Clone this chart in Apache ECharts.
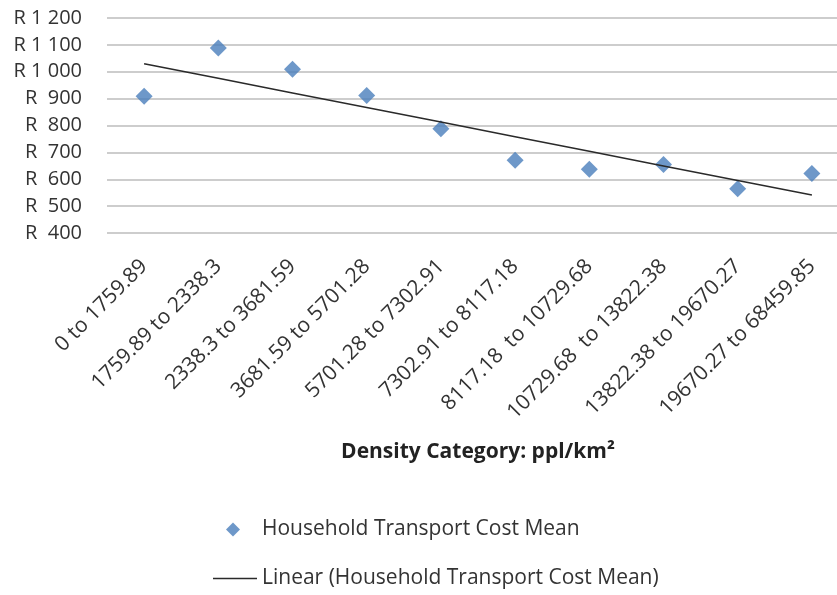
<!DOCTYPE html>
<html>
<head>
<meta charset="utf-8">
<script src="https://cdn.jsdelivr.net/npm/echarts@6/dist/echarts.min.js"></script>
<style>
  html, body { margin: 0; padding: 0; background: #fff; overflow: hidden; }
  #chart { width: 849px; height: 595px; }
</style>
</head>
<body>
<div id="chart"></div>
<script>
// density categories (ppl/km2)
const categories = [
  '0 to 1759.89',
  '1759.89 to 2338.3',
  '2338.3 to 3681.59',
  '3681.59 to 5701.28',
  '5701.28 to 7302.91',
  '7302.91 to 8117.18',
  '8117.18  to 10729.68',
  '10729.68  to 13822.38',
  '13822.38 to 19670.27',
  '19670.27 to 68459.85'
]
// mean household transport cost (R)
const costMean = [909, 1088, 1009, 912, 788, 671, 637, 655, 565, 621]

// linear trend line (least squares, like the Excel trendline)
function linearFit (ys) {
  let n = ys.length
  let mx = (n + 1) / 2
  let my = ys.reduce((a, b) => a + b, 0) / n
  let sxy = 0
  let sxx = 0
  ys.forEach((y, i) => {
    sxy += (i + 1 - mx) * (y - my)
    sxx += (i + 1 - mx) * (i + 1 - mx)
  })
  let k = sxy / sxx
  return ys.map((y, i) => +(my + k * (i + 1 - mx)).toFixed(2))
}
const trend = linearFit(costMean)

function randLabel (v) {
  if (v >= 1000) {
    return 'R ' + Math.floor(v / 1000) + ' ' + String(v % 1000).padStart(3, '0')
  }
  return 'R  ' + v
}

// legend icons: the extra moves keep the 44x14 box so nothing gets stretched
const diamondIcon = 'path://M0,0M44,14M20,0L27,7L20,14L13,7Z'
const lineIcon = 'path://M0,0M44,14M0,6.3L44,6.3L44,7.7L0,7.7Z'

let myChart = echarts.init(document.getElementById('chart'))
myChart.setOption({
  backgroundColor: '#fff',
  animation: false,
  textStyle: {
    fontFamily: 'Open Sans'
  },
  grid: {
    left: 107,
    right: 0,
    top: 18,
    bottom: 362
  },
  legend: {
    orient: 'vertical',
    left: 213,
    top: 519,
    padding: 0,
    itemWidth: 44,
    itemHeight: 14,
    itemGap: 28,
    textStyle: {
      color: '#333',
      fontSize: 21,
      fontFamily: 'Open Sans'
    },
    data: [
      { name: 'Household Transport Cost Mean', icon: diamondIcon },
      { name: 'Linear (Household Transport Cost Mean)', icon: lineIcon }
    ]
  },
  xAxis: {
    type: 'category',
    data: categories,
    boundaryGap: true,
    axisLine: {
      show: false
    },
    axisTick: {
      show: false
    },
    axisLabel: {
      rotate: 45,
      interval: 0,
      margin: 30,
      color: '#333',
      fontSize: 21,
      fontFamily: 'Open Sans'
    },
    name: 'Density Category: ppl/km²',
    nameLocation: 'middle',
    nameGap: 209,
    nameTextStyle: {
      color: '#222',
      fontWeight: 'bold',
      fontSize: 21,
      fontFamily: 'Open Sans'
    }
  },
  yAxis: {
    type: 'value',
    min: 400,
    max: 1200,
    interval: 100,
    axisLine: {
      show: false
    },
    axisTick: {
      show: false
    },
    axisLabel: {
      margin: 25,
      color: '#333',
      fontSize: 20,
      fontFamily: 'Open Sans',
      formatter: randLabel
    },
    splitLine: {
      lineStyle: {
        color: '#bcbcbc',
        width: 1.5
      }
    }
  },
  series: [
    {
      name: 'Household Transport Cost Mean',
      type: 'scatter',
      data: costMean,
      symbol: 'diamond',
      symbolSize: 17,
      itemStyle: {
        color: '#4a7ebb'
      }
    },
    {
      name: 'Linear (Household Transport Cost Mean)',
      type: 'line',
      data: trend,
      symbol: 'none',
      itemStyle: {
        color: '#2a2a2a'
      },
      lineStyle: {
        color: '#2a2a2a',
        width: 1.5
      }
    }
  ]
})
</script>
</body>
</html>
